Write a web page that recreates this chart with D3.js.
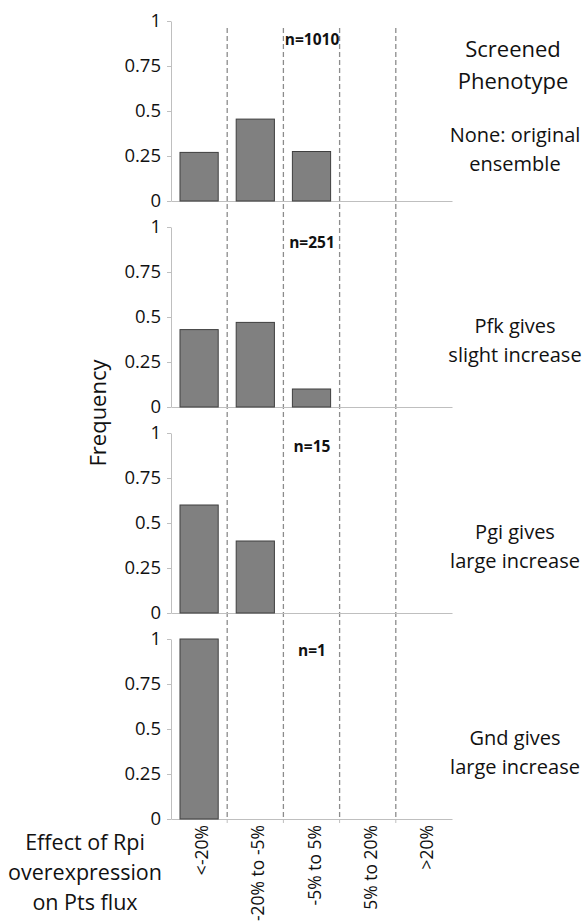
<!DOCTYPE html>
<html>
<head>
<meta charset="utf-8">
<script src="https://cdn.jsdelivr.net/npm/d3@7"></script>
<style>
  html, body { margin: 0; padding: 0; background: #fff; }
  svg { display: block; font-family: "Open Sans", "Noto Sans", sans-serif; }
</style>
</head>
<body>
<svg id="chart" width="586" height="923"></svg>
<script>
// Bins of the effect of Rpi overexpression on Pts flux
const categories = ["<-20%", "-20% to -5%", "-5% to 5%", "5% to 20%", ">20%"];

// Frequency of each bin, one series per screened phenotype
const noneValues = [0.27, 0.455, 0.275, 0, 0];
const pfkValues  = [0.43, 0.47, 0.10, 0, 0];
const pgiValues  = [0.60, 0.40, 0, 0, 0];
const gndValues  = [1.00, 0, 0, 0, 0];

const sampleSizes = ["n=1010", "n=251", "n=15", "n=1"];
const phenotypeLabels = [
  ["None: original", "ensemble"],
  ["Pfk gives", "slight increase"],
  ["Pgi gives", "large increase"],
  ["Gnd gives", "large increase"]
];
const yTicks = [0, 0.25, 0.5, 0.75, 1];
const yTickLabels = ["0", "0.25", "0.5", "0.75", "1"];

const series = [noneValues, pfkValues, pgiValues, gndValues];

// Layout
const left = 171, right = 452;
const firstTop = 21, panelStep = 206, panelH = 180;
const nLabelDy = [24, 21, 19, 17];       // baseline of the n= label below each panel top
const sideLabelDy = [121, 106, 106, 106]; // baseline of the phenotype label below each panel top
const svg = d3.select("#chart");
const axisColor = "#bfbfbf";

const x = d3.scaleBand().domain(categories).range([left, right])
  .paddingInner(0.32).paddingOuter(0.16);

const lastBottom = firstTop + (series.length - 1) * panelStep + panelH;

// Dashed separators between bins, spanning all panels
const bounds = categories.slice(1).map(c => x(c) - x.step() * x.paddingInner() / 2);
svg.append("g").selectAll("line").data(bounds).join("line")
  .attr("x1", d => d).attr("x2", d => d)
  .attr("y1", firstTop + 7).attr("y2", lastBottom)
  .attr("stroke", "#8c8c8c").attr("stroke-width", 1.3)
  .attr("stroke-dasharray", "5,3");

series.forEach((vals, i) => {
  const top = firstTop + i * panelStep;
  const y = d3.scaleLinear().domain([0, 1]).range([top + panelH, top]);
  const g = svg.append("g");

  // y axis
  const ya = g.append("g").attr("transform", `translate(${left},0)`)
    .call(d3.axisLeft(y).tickValues(yTicks).tickFormat((d, k) => yTickLabels[k])
      .tickSizeInner(4).tickSizeOuter(0).tickPadding(6));
  ya.select(".domain").attr("stroke", axisColor);
  ya.selectAll(".tick line").attr("stroke", axisColor);
  ya.selectAll(".tick text").attr("fill", "#111").style("font-size", "18.5px")
    .style("font-family", "'Open Sans', sans-serif");

  // x baseline
  const xa = g.append("g").attr("transform", `translate(0,${y(0)})`)
    .call(d3.axisBottom(x).tickValues([]).tickSizeOuter(0));
  xa.select(".domain").attr("stroke", axisColor);

  // bars
  g.selectAll("rect").data(vals.map((v, k) => ({ v, c: categories[k] })).filter(d => d.v > 0))
    .join("rect")
    .attr("x", d => x(d.c))
    .attr("width", x.bandwidth())
    .attr("y", d => y(d.v))
    .attr("height", d => y(0) - y(d.v))
    .attr("fill", "#808080")
    .attr("stroke", "#3f3f3f").attr("stroke-width", 1);

  // sample size
  g.append("text").attr("x", 312).attr("y", top + nLabelDy[i])
    .attr("text-anchor", "middle")
    .style("font-size", "15.5px").style("font-weight", "bold")
    .attr("fill", "#111").text(sampleSizes[i]);

  // phenotype label
  const lt = g.append("text").attr("text-anchor", "middle")
    .style("font-size", "20px").attr("fill", "#111");
  phenotypeLabels[i].forEach((s, k) => {
    lt.append("tspan").attr("x", 515).attr("y", top + sideLabelDy[i] + k * 29).text(s);
  });
});

// bottom ticks at bin boundaries
svg.append("g").selectAll("line").data(bounds).join("line")
  .attr("x1", d => d).attr("x2", d => d)
  .attr("y1", lastBottom).attr("y2", lastBottom + 4)
  .attr("stroke", axisColor);

// category labels, rotated
svg.append("g").selectAll("text").data(categories).join("text")
  .attr("transform", d => `translate(${x(d) + x.bandwidth() / 2 + 3},${lastBottom + 6}) rotate(-90)`)
  .attr("text-anchor", "end").attr("dy", "0.35em")
  .style("font-size", "17.5px").attr("fill", "#111")
  .text(d => d);

// header
const hdr = svg.append("text").attr("text-anchor", "middle")
  .style("font-size", "22px").attr("fill", "#111");
["Screened", "Phenotype"].forEach((s, k) => {
  hdr.append("tspan").attr("x", 513).attr("y", 57 + k * 32).text(s);
});

// y axis title
svg.append("text")
  .attr("transform", "translate(98,413) rotate(-90)")
  .attr("text-anchor", "middle").attr("dy", "0.35em")
  .style("font-size", "22px").attr("fill", "#111")
  .text("Frequency");

// x axis title
const xt = svg.append("text").attr("text-anchor", "middle")
  .style("font-size", "21.5px").attr("fill", "#111");
["Effect of Rpi", "overexpression", "on Pts flux"].forEach((s, k) => {
  xt.append("tspan").attr("x", 85).attr("y", 850 + k * 30).text(s);
});
</script>
</body>
</html>
